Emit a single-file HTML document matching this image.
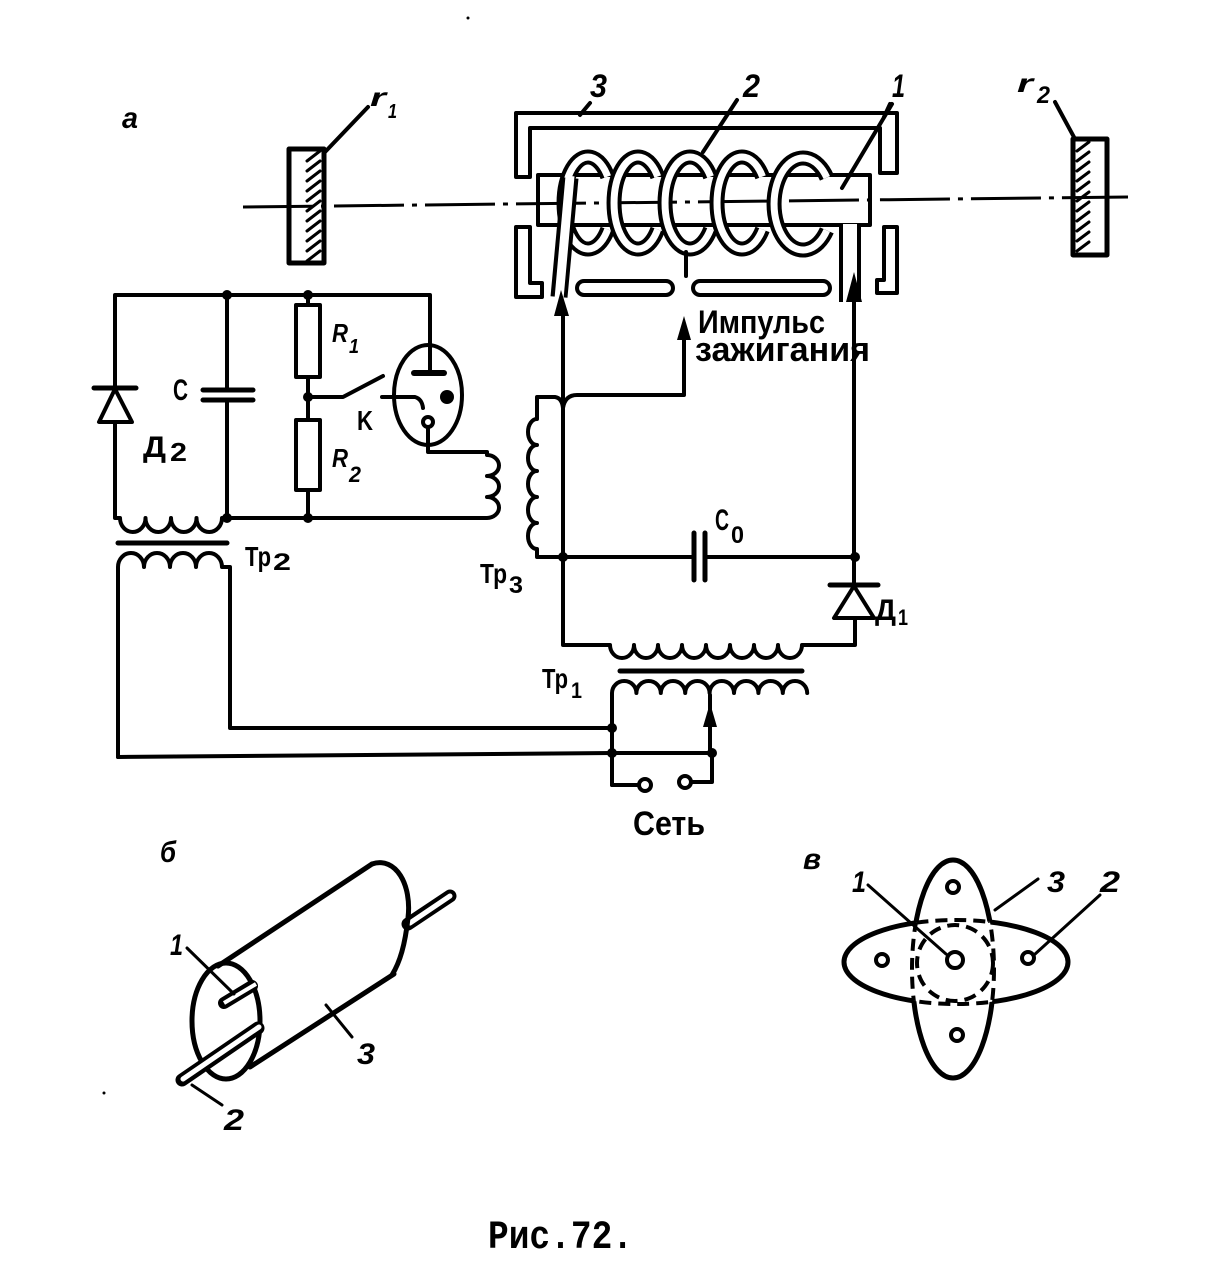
<!DOCTYPE html>
<html><head><meta charset="utf-8"><style>
html,body{margin:0;padding:0;background:#fff;}
svg{display:block;}
text{font-family:"Liberation Sans","DejaVu Sans",sans-serif;font-weight:bold;fill:#000;}
.it{font-style:italic;}
.mono{font-family:"Liberation Mono","DejaVu Sans Mono",monospace;}
</style></head><body>
<svg width="1229" height="1273" viewBox="0 0 1229 1273" xmlns="http://www.w3.org/2000/svg">
<defs>
<clipPath id="cH"><ellipse cx="956" cy="962" rx="112" ry="42"/></clipPath>
<clipPath id="cV"><ellipse cx="953" cy="969" rx="41" ry="109"/></clipPath>
<mask id="mH"><rect width="1229" height="1273" fill="#fff"/><ellipse cx="956" cy="962" rx="112" ry="42" fill="#000"/></mask>
<mask id="mV"><rect width="1229" height="1273" fill="#fff"/><ellipse cx="953" cy="969" rx="41" ry="109" fill="#000"/></mask>
</defs>
<rect width="1229" height="1273" fill="#fff"/>

<g fill="none" stroke="#000" stroke-width="4" stroke-linejoin="round" stroke-linecap="round">
<!-- mirrors -->
<rect x="289" y="149" width="35" height="114" stroke-width="5" fill="#fff"/>
<path stroke-width="3" d="M307,161 L320,151 M307,171 L320,161 M307,181 L320,171 M307,191 L320,181 M307,201 L320,191 M307,211 L320,201 M307,221 L320,211 M307,231 L320,221 M307,241 L320,231 M307,251 L320,241 M307,261 L320,251"/>
<path d="M325,152 L368,107"/>
<rect x="1073" y="139" width="34" height="116" stroke-width="5" fill="#fff"/>
<path stroke-width="3" d="M1077,151 L1089,142 M1077,161 L1089,152 M1077,171 L1089,162 M1077,181 L1089,172 M1077,191 L1089,182 M1077,201 L1089,192 M1077,211 L1089,202 M1077,221 L1089,212 M1077,231 L1089,222 M1077,241 L1089,232 M1077,251 L1089,242"/>
<path d="M1075,139 L1055,102"/>

<!-- reflector 3 -->
<path fill="#fff" d="M516,177 L516,113 L897,113 L897,173 L880,173 L880,128 L530,128 L530,177 Z"/>
<path fill="#fff" d="M516,227 L530,227 L530,283 L542,283 L542,297 L516,297 Z"/>
<path fill="#fff" d="M884,227 L897,227 L897,293 L877,293 L877,280 L884,280 Z"/>
<rect x="577" y="281" width="96" height="14" rx="7" fill="#fff"/>
<rect x="693" y="281" width="137" height="14" rx="7" fill="#fff"/>

<!-- tube -->
<rect x="538" y="175" width="332" height="50" fill="#fff"/>
</g>

<!-- axis -->
<line x1="243" y1="207" x2="1128" y2="197" stroke="#000" stroke-width="3" stroke-dasharray="70 8 5 8"/>

<!-- coil loops (C-shaped) -->
<g fill="none" stroke-linecap="butt">
<path d="M607.7,176.6 A24,46 0 1 0 607.7,229.4" stroke="#000" stroke-width="15"/>
<path d="M607.7,176.6 A24,46 0 1 0 607.7,229.4" stroke="#fff" stroke-width="7"/>
<path d="M657.7,176.6 A24,46 0 1 0 657.7,229.4" stroke="#000" stroke-width="15"/>
<path d="M657.7,176.6 A24,46 0 1 0 657.7,229.4" stroke="#fff" stroke-width="7"/>
<path d="M710.5,176.6 A25,46 0 1 0 710.5,229.4" stroke="#000" stroke-width="15"/>
<path d="M710.5,176.6 A25,46 0 1 0 710.5,229.4" stroke="#fff" stroke-width="7"/>
<path d="M762.5,176.6 A25,46 0 1 0 762.5,229.4" stroke="#000" stroke-width="15"/>
<path d="M762.5,176.6 A25,46 0 1 0 762.5,229.4" stroke="#fff" stroke-width="7"/>
<path d="M826.8,177.6 A29,46 0 1 0 826.8,230.4" stroke="#000" stroke-width="15"/>
<path d="M826.8,177.6 A29,46 0 1 0 826.8,230.4" stroke="#fff" stroke-width="7"/>
<!-- leads -->
<path d="M570,178 L559,297" stroke="#000" stroke-width="17"/>
<path d="M570,176 L559,299" stroke="#fff" stroke-width="9"/>
<path d="M850,226 L850,302" stroke="#000" stroke-width="22"/>
<path d="M850,224 L850,304" stroke="#fff" stroke-width="14"/>
</g>

<g fill="none" stroke="#000" stroke-width="4" stroke-linejoin="round" stroke-linecap="round">
<path d="M686,252 L686,276"/>
<path d="M737,100 L703,152"/>
<path d="M590,103 L580,115"/>
<path d="M892,104 L842,188"/>
<path d="M890,104 L884,117"/>

<!-- arrows lines -->
<path d="M563,312 L563,645 L610,645 a12,13 0 0 0 24,0 a12,13 0 0 0 24,0 a12,13 0 0 0 24,0 a12,13 0 0 0 24,0 a12,13 0 0 0 24,0 a12,13 0 0 0 24,0 a12,13 0 0 0 24,0 a12,13 0 0 0 24,0 L855,645 L855,618"/>
<path d="M854,300 L854,585"/>
<path d="M684,338 L684,395 L577,395 Q565,395 563,408"/>
<path d="M563,408 Q562,398 555,397 L537,397 L537,419 a9,13 0 0 0 0,26 a9,13 0 0 0 0,26 a9,13 0 0 0 0,26 a9,13 0 0 0 0,26 a9,13 0 0 0 0,26 L537,557 L563,557"/>

<!-- C0 -->
<path d="M563,557 L693,557 M706,557 L855,557"/>
<path d="M694,533 L694,580 M705,533 L705,580" stroke-width="5"/>
<!-- D1 -->
<path d="M830,585 L878,585" stroke-width="5"/>
<path d="M854,586 L834,618 L874,618 Z"/>
<!-- Tr1 core + primary -->
<path d="M620,671 L802,671" stroke-width="5"/>
<path d="M612,785 L612,693 a12.2,12 0 0 1 24.4,0 a12.2,12 0 0 1 24.4,0 a12.2,12 0 0 1 24.4,0 a12.2,12 0 0 1 24.4,0 a12.2,12 0 0 1 24.4,0 a12.2,12 0 0 1 24.4,0 a12.2,12 0 0 1 24.4,0 a12.2,12 0 0 1 24.4,0"/>
<path d="M710,753 L710,695"/>
<path d="M118,757 L612,753 L712,753 L712,782 L691,782"/>
<path d="M612,785 L639,785"/>
<circle cx="645" cy="785" r="6"/>
<circle cx="685" cy="782" r="6"/>
<!-- Tr2 -->
<path d="M118,757 L118,567 a13,14 0 0 1 26,0 a13,14 0 0 1 26,0 a13,14 0 0 1 26,0 a13,14 0 0 1 26,0 L230,567 L230,728 L612,728"/>
<path d="M118,543 L227,543" stroke-width="5"/>
<path d="M115,422 L115,518 L120,518 a12.75,14 0 0 0 25.5,0 a12.75,14 0 0 0 25.5,0 a12.75,14 0 0 0 25.5,0 a12.75,14 0 0 0 25.5,0 L487,518 a12,10.5 0 0 0 0,-21 a12,10.5 0 0 0 0,-21 a12,10.5 0 0 0 0,-21 L487,452 L428,452 L428,427"/>
<circle cx="428" cy="422" r="5"/>
<!-- D2 -->
<path d="M94,388 L136,388" stroke-width="5"/>
<path d="M115,389 L99,422 L132,422 Z"/>
<path d="M115,388 L115,295 L430,295 L430,373"/>
<path d="M414,373 L444,373" stroke-width="6"/>
<!-- C -->
<path d="M227,295 L227,390 M227,400 L227,518"/>
<path d="M203,390 L253,390 M203,400 L253,400" stroke-width="5"/>
<!-- R1 R2 -->
<path d="M308,295 L308,305 M308,377 L308,420 M308,490 L308,518"/>
<rect x="296" y="305" width="24" height="72"/>
<rect x="296" y="420" width="24" height="70"/>
<!-- switch -->
<path d="M308,397 L343,397 L383,376"/>
<!-- tube -->
<ellipse cx="428" cy="395" rx="34" ry="50"/>
<path d="M382,397 L415,397 Q422,399 423,408"/>

<!-- part б -->
<g stroke-width="5">
<path d="M408,924 L450,896" stroke-width="13"/>
<path d="M410,923 L450,896" stroke="#fff" stroke-width="5"/>
<ellipse cx="226" cy="1021" rx="34" ry="58"/>
<path d="M218,966 L372,864"/>
<path d="M372,864 C396,856 412,885 408,918 C405,945 400,962 392,975"/>
<path d="M250,1067 L394,974"/>
<path d="M224,1003 L252,986" stroke-width="12"/>
<path d="M224,1003 L256,984" stroke="#fff" stroke-width="4" stroke-linecap="butt"/>
<path d="M182,1080 L258,1028" stroke-width="13"/>
<path d="M183,1079 L259,1027" stroke="#fff" stroke-width="5"/>
</g>
<path d="M187,948 L234,994 M352,1037 L326,1005 M222,1105 L192,1085" stroke-width="3"/>

<!-- part в -->
<g stroke-width="5">
<ellipse cx="953" cy="969" rx="41" ry="109" mask="url(#mH)"/>
<ellipse cx="956" cy="962" rx="112" ry="42" mask="url(#mV)"/>
<ellipse cx="953" cy="969" rx="41" ry="109" clip-path="url(#cH)" stroke-dasharray="12 7" stroke-linecap="butt" stroke-width="4"/>
<ellipse cx="956" cy="962" rx="112" ry="42" clip-path="url(#cV)" stroke-dasharray="12 7" stroke-linecap="butt" stroke-width="4"/>
<circle cx="955" cy="963" r="38" stroke-dasharray="12 7" stroke-linecap="butt" stroke-width="4"/>
</g>
<circle cx="953" cy="887" r="6"/>
<circle cx="882" cy="960" r="6"/>
<circle cx="1028" cy="958" r="6"/>
<circle cx="957" cy="1035" r="6"/>
<circle cx="955" cy="960" r="8"/>
<path d="M868,885 L946,954 M1038,879 L995,910 M1100,895 L1034,955" stroke-width="3"/>
</g>

<!-- arrowheads and dots -->
<g fill="#000">
<polygon points="561,290 554,316 569,316"/>
<polygon points="684,316 677,340 691,340"/>
<polygon points="854,272 846,302 862,302"/>
<polygon points="710,703 703,727 717,727"/>
<circle cx="447" cy="397" r="7"/>
<circle cx="227" cy="295" r="5"/>
<circle cx="308" cy="295" r="5"/>
<circle cx="308" cy="397" r="5"/>
<circle cx="227" cy="518" r="5"/>
<circle cx="308" cy="518" r="5"/>
<circle cx="563" cy="557" r="5"/>
<circle cx="855" cy="557" r="5"/>
<circle cx="612" cy="728" r="5"/>
<circle cx="612" cy="753" r="5"/>
<circle cx="712" cy="753" r="5"/>
<circle cx="468" cy="18" r="1.5"/>
<circle cx="104" cy="1093" r="1.5"/>
</g>

<!-- labels -->
<text x="122" y="128" class="it" font-size="30" textLength="16" lengthAdjust="spacingAndGlyphs">a</text>
<text x="370" y="106" class="it" font-size="26" textLength="16" lengthAdjust="spacingAndGlyphs">r</text>
<text x="388" y="118" class="it" font-size="20" textLength="9" lengthAdjust="spacingAndGlyphs">1</text>
<text x="1017" y="92" class="it" font-size="26" textLength="16" lengthAdjust="spacingAndGlyphs">r</text>
<text x="1037" y="103" class="it" font-size="24" textLength="13" lengthAdjust="spacingAndGlyphs">2</text>
<text x="590" y="97" class="it" font-size="32" textLength="17" lengthAdjust="spacingAndGlyphs">3</text>
<text x="743" y="97" class="it" font-size="32" textLength="17" lengthAdjust="spacingAndGlyphs">2</text>
<text x="892" y="97" class="it" font-size="32" textLength="13" lengthAdjust="spacingAndGlyphs">1</text>
<text x="698" y="333" font-size="32" textLength="127" lengthAdjust="spacingAndGlyphs">Импульс</text>
<text x="695" y="361" font-size="34" textLength="175" lengthAdjust="spacingAndGlyphs">зажигания</text>

<text x="173" y="400" font-size="30" textLength="15" lengthAdjust="spacingAndGlyphs">C</text>
<text x="143" y="457" font-size="30" textLength="23" lengthAdjust="spacingAndGlyphs">Д</text>
<text x="170" y="461" font-size="26" textLength="17" lengthAdjust="spacingAndGlyphs">2</text>
<text x="332" y="342" class="it" font-size="26" textLength="16" lengthAdjust="spacingAndGlyphs">R</text>
<text x="349" y="353" class="it" font-size="20" textLength="10" lengthAdjust="spacingAndGlyphs">1</text>
<text x="332" y="467" class="it" font-size="26" textLength="16" lengthAdjust="spacingAndGlyphs">R</text>
<text x="349" y="482" class="it" font-size="22" textLength="12" lengthAdjust="spacingAndGlyphs">2</text>
<text x="357" y="430" font-size="28" textLength="16" lengthAdjust="spacingAndGlyphs">K</text>
<text x="245" y="566" font-size="28" textLength="26" lengthAdjust="spacingAndGlyphs">Тр</text>
<text x="273" y="570" font-size="24" textLength="18" lengthAdjust="spacingAndGlyphs">2</text>
<text x="480" y="583" font-size="28" textLength="27" lengthAdjust="spacingAndGlyphs">Тр</text>
<text x="509" y="593" font-size="24" textLength="14" lengthAdjust="spacingAndGlyphs">3</text>
<text x="715" y="530" font-size="30" textLength="14" lengthAdjust="spacingAndGlyphs">C</text>
<text x="731" y="543" font-size="24" textLength="13" lengthAdjust="spacingAndGlyphs">0</text>
<text x="875" y="620" font-size="30" textLength="21" lengthAdjust="spacingAndGlyphs">Д</text>
<text x="898" y="625" font-size="22" textLength="10" lengthAdjust="spacingAndGlyphs">1</text>
<text x="542" y="688" font-size="28" textLength="26" lengthAdjust="spacingAndGlyphs">Тр</text>
<text x="571" y="698" font-size="22" textLength="11" lengthAdjust="spacingAndGlyphs">1</text>
<text x="633" y="835" font-size="34" textLength="72" lengthAdjust="spacingAndGlyphs">Сеть</text>

<text x="160" y="862" class="it" font-size="30" textLength="16" lengthAdjust="spacingAndGlyphs">б</text>
<text x="170" y="955" class="it" font-size="30" textLength="13" lengthAdjust="spacingAndGlyphs">1</text>
<text x="357" y="1064" class="it" font-size="30" textLength="18" lengthAdjust="spacingAndGlyphs">3</text>
<text x="224" y="1130" class="it" font-size="30" textLength="20" lengthAdjust="spacingAndGlyphs">2</text>
<text x="803" y="869" class="it" font-size="30" textLength="18" lengthAdjust="spacingAndGlyphs">в</text>
<text x="852" y="892" class="it" font-size="30" textLength="14" lengthAdjust="spacingAndGlyphs">1</text>
<text x="1047" y="892" class="it" font-size="30" textLength="18" lengthAdjust="spacingAndGlyphs">3</text>
<text x="1100" y="892" class="it" font-size="30" textLength="20" lengthAdjust="spacingAndGlyphs">2</text>

<text x="488" y="1248" class="mono" font-size="40" textLength="145" lengthAdjust="spacingAndGlyphs">Рис.72.</text>
</svg>
</body></html>
